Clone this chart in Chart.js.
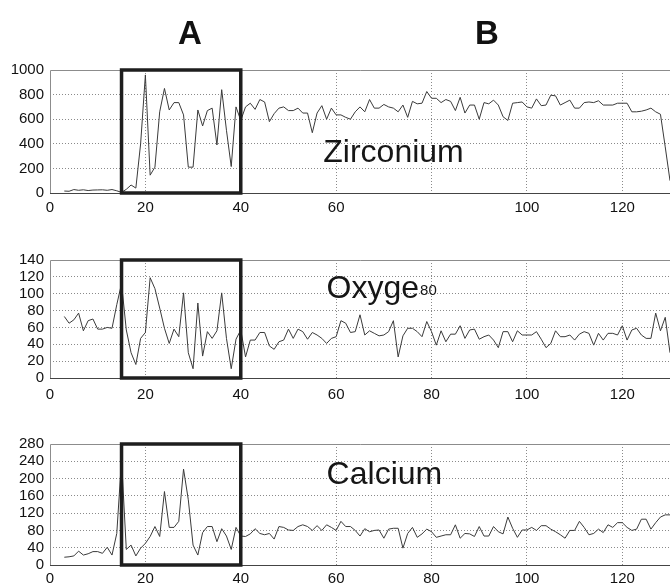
<!DOCTYPE html>
<html>
<head>
<meta charset="utf-8">
<script src="https://cdn.jsdelivr.net/npm/chart.js@4.4.1/dist/chart.umd.min.js"></script>
<style>
  body { margin: 0; background: #fff; }
  #page { position: relative; width: 670px; height: 587px; overflow: hidden; }
  canvas { position: absolute; left: 0; }
</style>
</head>
<body>
<div id="page">
  <canvas id="zrChart" width="670" height="220" style="top:0px"></canvas>
  <canvas id="oxChart" width="670" height="190" style="top:220px"></canvas>
  <canvas id="caChart" width="670" height="177" style="top:410px"></canvas>
</div>
<script>
// Sample positions run from 3 to 130 (one reading per unit)
const firstSample = 3;

// Zirconium readings, samples 3..130
const zirconium = [
  16, 14, 28, 22, 26, 20, 24, 25, 26, 22, 28, 18,
  5, 30, 65, 40, 400, 960, 145, 210, 660, 850, 675, 735, 735, 635, 210, 210, 675, 545, 670, 690, 390, 840, 510, 215, 700, 590, 700,
  730, 680, 760, 740, 580, 645, 690, 700, 670, 670, 690, 650, 650, 490, 650, 710, 600, 690, 635, 635, 615, 600, 660, 700, 660, 760,
  690, 690, 720, 700, 690, 660, 715, 615, 745, 725, 730, 825, 770, 770, 735, 760, 745, 670, 778, 650, 715, 715,
  600, 735, 725, 755, 715, 620, 590, 730, 735, 740, 700, 690, 765, 710, 715, 795, 790, 715, 735, 755, 690, 690, 735, 740, 735,
  750, 715, 715, 715, 730, 730, 730, 660, 660, 665, 675, 690, 660, 640, 375, 100
];

// Oxygen readings, samples 3..130
const oxygen = [
  73, 65, 69, 77, 56, 68, 70, 58, 58, 60, 59, 87,
  112, 57, 30, 16, 47, 54, 119, 106, 83, 59, 41, 58, 49, 101, 30, 11, 89, 26, 55, 47, 56, 101, 47, 11, 46, 57, 25,
  45, 45, 54, 54, 38, 34, 43, 45, 58, 47, 58, 55, 46, 54, 51, 47, 41, 47, 49, 68, 65, 54, 55, 75,
  51, 56, 53, 50, 51, 55, 68, 25, 50, 59, 59, 55, 49, 67, 55, 39, 56, 43, 52, 52, 62, 47, 57, 58,
  46, 49, 51, 45, 36, 55, 55, 43, 56, 51, 51, 51, 55, 46, 36, 41, 56, 49, 49, 51, 45, 52, 55, 53, 39,
  53, 45, 53, 53, 51, 62, 45, 57, 59, 51, 47, 47, 77, 56, 72, 30
];

// Calcium readings, samples 3..130
const calcium = [
  18, 19, 21, 32, 23, 26, 31, 31, 27, 41, 23, 73,
  244, 36, 46, 21, 39, 50, 66, 89, 66, 170, 87, 87, 101, 222, 151, 46, 23, 75, 89, 89, 54, 84, 67, 36, 87, 67, 66,
  72, 84, 73, 70, 73, 60, 89, 87, 81, 80, 89, 93, 89, 80, 91, 80, 93, 87, 80, 101, 89, 89, 80, 67,
  84, 77, 80, 81, 62, 83, 85, 85, 39, 73, 87, 64, 72, 83, 77, 64, 67, 70, 70, 93, 62, 73, 72, 66,
  89, 67, 67, 89, 77, 72, 111, 85, 64, 81, 81, 87, 80, 91, 91, 83, 77, 70, 62, 80, 80, 101, 87, 70, 73,
  83, 75, 93, 87, 98, 98, 87, 80, 83, 106, 106, 83, 98, 111, 116, 116
];

// Axis ticks
const xTicks = [0, 20, 40, 60, 80, 100, 120];
const zrTicks = [0, 200, 400, 600, 800, 1000];
const oxTicks = [0, 20, 40, 60, 80, 100, 120, 140];
const caTicks = [0, 40, 80, 120, 160, 200, 240, 280];

// Highlighted window (the box) and the region letters above it
const boxRange = [15, 40];
const regionLetters = ['A', 'B'];

const FONT = '"Liberation Sans", Arial, sans-serif';

// Draws the frame, the highlight box and the element names
const panelDecor = {
    id: 'panelDecor',
    afterDatasetsDraw(chart, args, opts) {

        const { ctx, chartArea: a, scales: { x, y } } = chart;
        ctx.save();

        // frame lines
        ctx.lineWidth = 1;
        ctx.strokeStyle = '#8c8c8c';
        ctx.beginPath();
        ctx.moveTo(a.left + 0.5, a.bottom);
        ctx.lineTo(a.left + 0.5, a.top + 0.5);
        ctx.lineTo(a.right, a.top + 0.5);
        ctx.stroke();
        ctx.strokeStyle = '#444';
        ctx.beginPath();
        ctx.moveTo(a.left, a.bottom + 0.5);
        ctx.lineTo(a.right, a.bottom + 0.5);
        ctx.stroke();

        // highlight box
        const bx1 = x.getPixelForValue(boxRange[0]);
        const bx2 = x.getPixelForValue(boxRange[1]);
        ctx.lineWidth = 3.5;
        ctx.strokeStyle = '#1e1e1e';
        ctx.strokeRect(bx1, a.top, bx2 - bx1, a.bottom - a.top);

        // element name
        ctx.fillStyle = '#161616';
        ctx.font = '32px ' + FONT;
        ctx.textBaseline = 'alphabetic';
        ctx.textAlign = 'left';
        const tx = x.getPixelForValue(opts.labelAt[0]);
        const ty = y.getPixelForValue(opts.labelAt[1]);
        ctx.fillText(opts.label, tx, ty);
        if (opts.suffix) {
            const w = ctx.measureText(opts.label).width;
            ctx.font = '15px ' + FONT;
            ctx.fillText(opts.suffix, tx + w + 1, ty - 3);
        }

        // region letters on the top panel
        if (opts.letters) {
            ctx.font = 'bold 33px ' + FONT;
            ctx.textAlign = 'center';
            ctx.fillStyle = '#111';
            opts.letters.forEach((t, i) => {
                ctx.fillText(t, opts.letterX[i], 44);
            });
        }
        ctx.restore();
    }
};

// Builds one panel
function makePanel(canvasId, values, yTicks, cfg) {

    const points = values.map((v, i) => ({ x: firstSample + i, y: v }));
    const yMin = yTicks[0];
    const yMax = yTicks[yTicks.length - 1];

    return new Chart(document.getElementById(canvasId), {
        type: 'line',
        data: {
            datasets: [{
                data: points,
                borderColor: '#3a3a3a',
                borderWidth: 1,
                pointRadius: 0,
                tension: 0,
                fill: false
            }]
        },
        options: {
            responsive: false,
            animation: false,
            devicePixelRatio: 1,
            layout: { padding: { top: cfg.padTop, left: 0, right: 0, bottom: 0 } },
            plugins: {
                legend: { display: false },
                tooltip: { enabled: false },
                panelDecor: cfg.decor
            },
            scales: {
                x: {
                    type: 'linear',
                    min: 0,
                    max: 130,
                    afterBuildTicks: s => { s.ticks = xTicks.map(v => ({ value: v })); },
                    afterFit: s => { s.height = cfg.xAxisHeight; },
                    grid: {
                        drawTicks: false,
                        color: c => (c.tick && c.tick.value === 0) ? 'rgba(0,0,0,0)' : '#8a8a8a',
                        lineWidth: 1
                    },
                    border: { display: false, dash: [1, 2] },
                    ticks: {
                        padding: cfg.xPad,
                        autoSkip: false,
                        color: '#111',
                        font: { family: FONT, size: 15 },
                        maxRotation: 0,
                        callback: v => (cfg.hideX || []).includes(v) ? '' : String(v)
                    }
                },
                y: {
                    min: yMin,
                    max: yMax,
                    afterBuildTicks: s => { s.ticks = yTicks.map(v => ({ value: v })); },
                    afterFit: s => { s.width = 50; },
                    grid: {
                        drawTicks: false,
                        color: c => (c.tick && (c.tick.value === yMin || c.tick.value === yMax)) ? 'rgba(0,0,0,0)' : '#8a8a8a',
                        lineWidth: 1
                    },
                    border: { display: false, dash: [1, 2] },
                    ticks: {
                        padding: 6,
                        autoSkip: false,
                        color: '#111',
                        font: { family: FONT, size: 15, lineHeight: 1 },
                        callback: v => String(v)
                    }
                }
            }
        },
        plugins: [panelDecor]
    });
}

let zrChart, oxChart, caChart;

window.onload = function () {

    zrChart = makePanel('zrChart', zirconium, zrTicks, {
        padTop: 70, xAxisHeight: 27, xPad: 6, hideX: [80],
        decor: { label: 'Zirconium', labelAt: [57.3, 250], letters: regionLetters, letterX: [190, 487] }
    });

    oxChart = makePanel('oxChart', oxygen, oxTicks, {
        padTop: 40, xAxisHeight: 32, xPad: 8,
        decor: { label: 'Oxyge', suffix: '80', labelAt: [58, 95] }
    });

    caChart = makePanel('caChart', calcium, caTicks, {
        padTop: 34, xAxisHeight: 22, xPad: 5,
        decor: { label: 'Calcium', labelAt: [58, 187] }
    });
};
</script>
</body>
</html>
